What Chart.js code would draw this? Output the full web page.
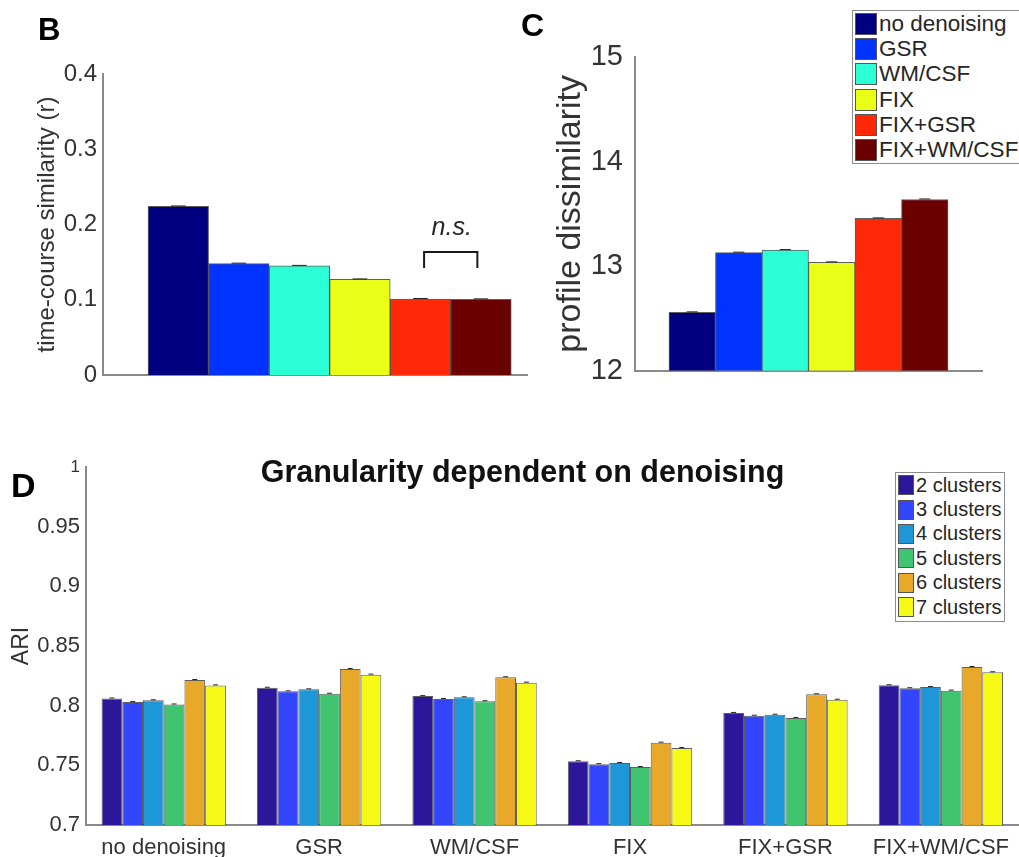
<!DOCTYPE html>
<html>
<head>
<meta charset="utf-8">
<script src="https://cdn.jsdelivr.net/npm/chart.js@4.4.1/dist/chart.umd.min.js"></script>
<style>
  body { margin: 0; background: #fff; }
  #fig { position: relative; width: 1019px; height: 857px; overflow: hidden; font-family: "Liberation Sans", Arial, sans-serif; }
  canvas { position: absolute; }
  .panel { position: absolute; font-weight: bold; line-height: 1; color: #000; }
  .title { position: absolute; font-weight: bold; line-height: 1; color: #111; text-align: center; }
  .legend { position: absolute; border: 1px solid #8c8c8c; background: #fff; color: #262626; }
  .legend div { display: flex; align-items: center; white-space: nowrap; }
  .legend span.sw { display: inline-block; box-sizing: border-box; border: 1px solid #555; margin-right: 2px; }
</style>
</head>
<body>
<div id="fig">
  <canvas id="chartB"></canvas>
  <canvas id="chartC"></canvas>
  <canvas id="chartD"></canvas>
  <div class="panel" style="left:38px; top:14px; font-size:31px;">B</div>
  <div class="panel" style="left:521px; top:9px; font-size:32px;">C</div>
  <div class="panel" style="left:11px; top:468px; font-size:34px;">D</div>
  <div class="title" style="left:0; width:1045px; top:456px; font-size:30.5px;">Granularity dependent on denoising</div>
  <div class="legend" id="legendC" style="left:852px; top:10px; width:170px; height:152px; font-size:22.5px;"></div>
  <div class="legend" id="legendD" style="left:895px; top:472px; width:108px; height:148px; font-size:20px;"></div>
</div>
<script>
const FONT = '"Liberation Sans", Arial, sans-serif';
const TICK_COLOR = '#333';
const AXIS_COLOR = '#8a8a8a';

// denoising strategies (panels B and C)
const methods = ['no denoising', 'GSR', 'WM/CSF', 'FIX', 'FIX+GSR', 'FIX+WM/CSF'];
const methodColors = ['#000080', '#0033ff', '#2affd6', '#eaff16', '#ff2807', '#6a0000'];

// B: time-course similarity (r)
const similarity = [0.224, 0.148, 0.145, 0.127, 0.101, 0.1005];
// C: profile dissimilarity
const dissimilarity = [12.557, 13.128, 13.153, 13.035, 13.456, 13.637];

// D: ARI per denoising strategy and cluster count
const clusterLabels = ['2 clusters', '3 clusters', '4 clusters', '5 clusters', '6 clusters', '7 clusters'];
const clusterColors = ['#2c1699', '#3346fd', '#1e97d9', '#41c46f', '#e8a82a', '#f6f916'];
const ari2 = [0.806, 0.815, 0.808, 0.7534, 0.7939, 0.8171];
const ari3 = [0.803, 0.812, 0.8056, 0.751, 0.7916, 0.8146];
const ari4 = [0.8045, 0.8137, 0.807, 0.752, 0.7924, 0.8157];
const ari5 = [0.801, 0.810, 0.8037, 0.7486, 0.7897, 0.8126];
const ari6 = [0.8215, 0.8307, 0.8238, 0.769, 0.8095, 0.8324];
const ari7 = [0.817, 0.826, 0.8193, 0.7645, 0.805, 0.828];
const ariSeries = [ari2, ari3, ari4, ari5, ari6, ari7];

// tiny error-bar caps on top of every bar
const errorCaps = {
  id: 'errorCaps',
  afterDatasetsDraw(chart) {
    const ctx = chart.ctx;
    ctx.save();
    ctx.strokeStyle = '#222';
    ctx.lineWidth = 1;
    chart.data.datasets.forEach((ds, i) => {
      chart.getDatasetMeta(i).data.forEach(bar => {
        const half = bar.width * 0.12;
        ctx.beginPath();
        ctx.moveTo(bar.x - half, bar.y - 0.5);
        ctx.lineTo(bar.x + half, bar.y - 0.5);
        ctx.stroke();
      });
    });
    ctx.restore();
  }
};

// "n.s." bracket between the last two bars of panel B
const nsBracket = {
  id: 'nsBracket',
  afterDatasetsDraw(chart) {
    const bars = chart.getDatasetMeta(0).data;
    const a = bars[4], b = bars[5];
    const mid = (a.x + b.x) / 2;
    const half = (b.x - a.x) * 0.44;
    const top = Math.min(a.y, b.y) - 47;
    const ctx = chart.ctx;
    ctx.save();
    ctx.strokeStyle = '#1a1a1a';
    ctx.lineWidth = 2;
    ctx.beginPath();
    ctx.moveTo(mid - half, top + 16);
    ctx.lineTo(mid - half, top);
    ctx.lineTo(mid + half, top);
    ctx.lineTo(mid + half, top + 16);
    ctx.stroke();
    ctx.fillStyle = '#262626';
    ctx.font = 'italic 25px ' + FONT;
    ctx.textAlign = 'center';
    ctx.textBaseline = 'alphabetic';
    ctx.fillText('n.s.', mid + 1, top - 17);
    ctx.restore();
  }
};

function place(id, left, top, w, h) {
  const c = document.getElementById(id);
  c.style.left = left + 'px';
  c.style.top = top + 'px';
  c.width = w;
  c.height = h;
  c.style.width = w + 'px';
  c.style.height = h + 'px';
  return c;
}

function yAxis(opts) {
  return {
    min: opts.min, max: opts.max,
    afterFit: s => { s.width = opts.width; },
    grid: { display: false, drawTicks: false, tickLength: 0 },
    border: { display: true, color: AXIS_COLOR, width: 2 },
    ticks: {
      stepSize: opts.step,
      padding: opts.pad,
      color: TICK_COLOR,
      font: opts.tickFont,
      callback: v => String(+v.toFixed(2))
    },
    title: {
      display: true,
      text: opts.title,
      color: TICK_COLOR,
      font: { family: FONT, size: opts.titleSize },
      padding: { top: opts.titlePad, bottom: 0 }
    }
  };
}

// linear x axis for one-bar-per-position panels; ticks sit on the bars so
// the bar width comes out as the full spacing between neighbours
function barXAxis(min, max, count, height) {
  return {
    type: 'linear', min, max, offset: false,
    afterBuildTicks: s => { s.ticks = Array.from({ length: count }, (_, i) => ({ value: i + 1 })); },
    afterFit: s => { s.height = height; },
    grid: { display: false, drawTicks: false, tickLength: 0 },
    border: { display: true, color: AXIS_COLOR, width: 2 },
    ticks: { display: false }
  };
}

const common = {
  responsive: false,
  animation: false,
  events: [],
  plugins: { legend: { display: false }, tooltip: { enabled: false } }
};

// ---- B ----
new Chart(place('chartB', 0, 0, 530, 400), {
  type: 'bar',
  data: {
    datasets: [{
      data: similarity.map((v, i) => ({ x: i + 1, y: v })),
      backgroundColor: methodColors,
      borderColor: 'rgba(40,40,40,0.75)',
      borderWidth: 1,
      categoryPercentage: 1,
      barPercentage: 1
    }]
  },
  options: {
    ...common,
    layout: { padding: { left: 0, top: 74, right: 3, bottom: 0 } },
    scales: {
      x: barXAxis(-0.244, 6.76, similarity.length, 25),
      y: yAxis({ min: 0, max: 0.4, step: 0.1, width: 103, pad: 6,
        tickFont: { family: FONT, size: 24 },
        title: 'time-course similarity (r)', titleSize: 24, titlePad: 33 })
    }
  },
  plugins: [errorCaps, nsBracket]
});

// ---- C ----
new Chart(place('chartC', 520, 0, 499, 400), {
  type: 'bar',
  data: {
    datasets: [{
      data: dissimilarity.map((v, i) => ({ x: i + 1, y: v })),
      backgroundColor: methodColors,
      borderColor: 'rgba(40,40,40,0.75)',
      borderWidth: 1,
      categoryPercentage: 1,
      barPercentage: 1
    }]
  },
  options: {
    ...common,
    layout: { padding: { left: 0, top: 57, right: 37, bottom: 0 } },
    scales: {
      x: barXAxis(-0.23, 7.23, dissimilarity.length, 23),
      y: yAxis({ min: 12, max: 15, step: 1, width: 115, pad: 12,
        tickFont: { family: FONT, size: 29 },
        title: 'profile dissimilarity', titleSize: 34, titlePad: 30 })
    }
  },
  plugins: [errorCaps]
});

// ---- D ----
new Chart(place('chartD', 0, 440, 1019, 417), {
  type: 'bar',
  data: {
    labels: methods,
    datasets: ariSeries.map((vals, i) => ({
      label: clusterLabels[i],
      data: vals,
      backgroundColor: clusterColors[i],
      borderColor: 'rgba(40,40,40,0.75)',
      borderWidth: 1,
      categoryPercentage: 0.8,
      barPercentage: 1
    }))
  },
  options: {
    ...common,
    layout: { padding: { left: 0, top: 27, right: 0, bottom: 0 } },
    scales: {
      x: {
        afterFit: s => { s.height = 32; },
        grid: { display: false, drawTicks: false, tickLength: 0 },
        border: { display: true, color: AXIS_COLOR, width: 2 },
        ticks: { color: TICK_COLOR, padding: 10, font: { family: FONT, size: 22 }, maxRotation: 0 }
      },
      y: yAxis({ min: 0.7, max: 1, step: 0.05, width: 86, pad: 6,
        tickFont: ctx => ({ family: FONT, size: ctx.tick && ctx.tick.value > 0.99 ? 17 : 22 }),
        title: 'ARI', titleSize: 23, titlePad: 8 })
    }
  },
  plugins: [errorCaps]
});

// HTML legends
function buildLegend(id, labels, colors, sw, row) {
  const box = document.getElementById(id);
  labels.forEach((lab, i) => {
    const r = document.createElement('div');
    r.style.height = row + 'px';
    r.style.paddingLeft = '2px';
    const s = document.createElement('span');
    s.className = 'sw';
    s.style.width = sw[0] + 'px';
    s.style.height = sw[1] + 'px';
    s.style.background = colors[i];
    r.appendChild(s);
    r.appendChild(document.createTextNode(lab));
    box.appendChild(r);
  });
}
buildLegend('legendC', methods, methodColors, [22, 22], 25.3);
buildLegend('legendD', clusterLabels, clusterColors, [16, 20], 24.4);
</script>
</body>
</html>
